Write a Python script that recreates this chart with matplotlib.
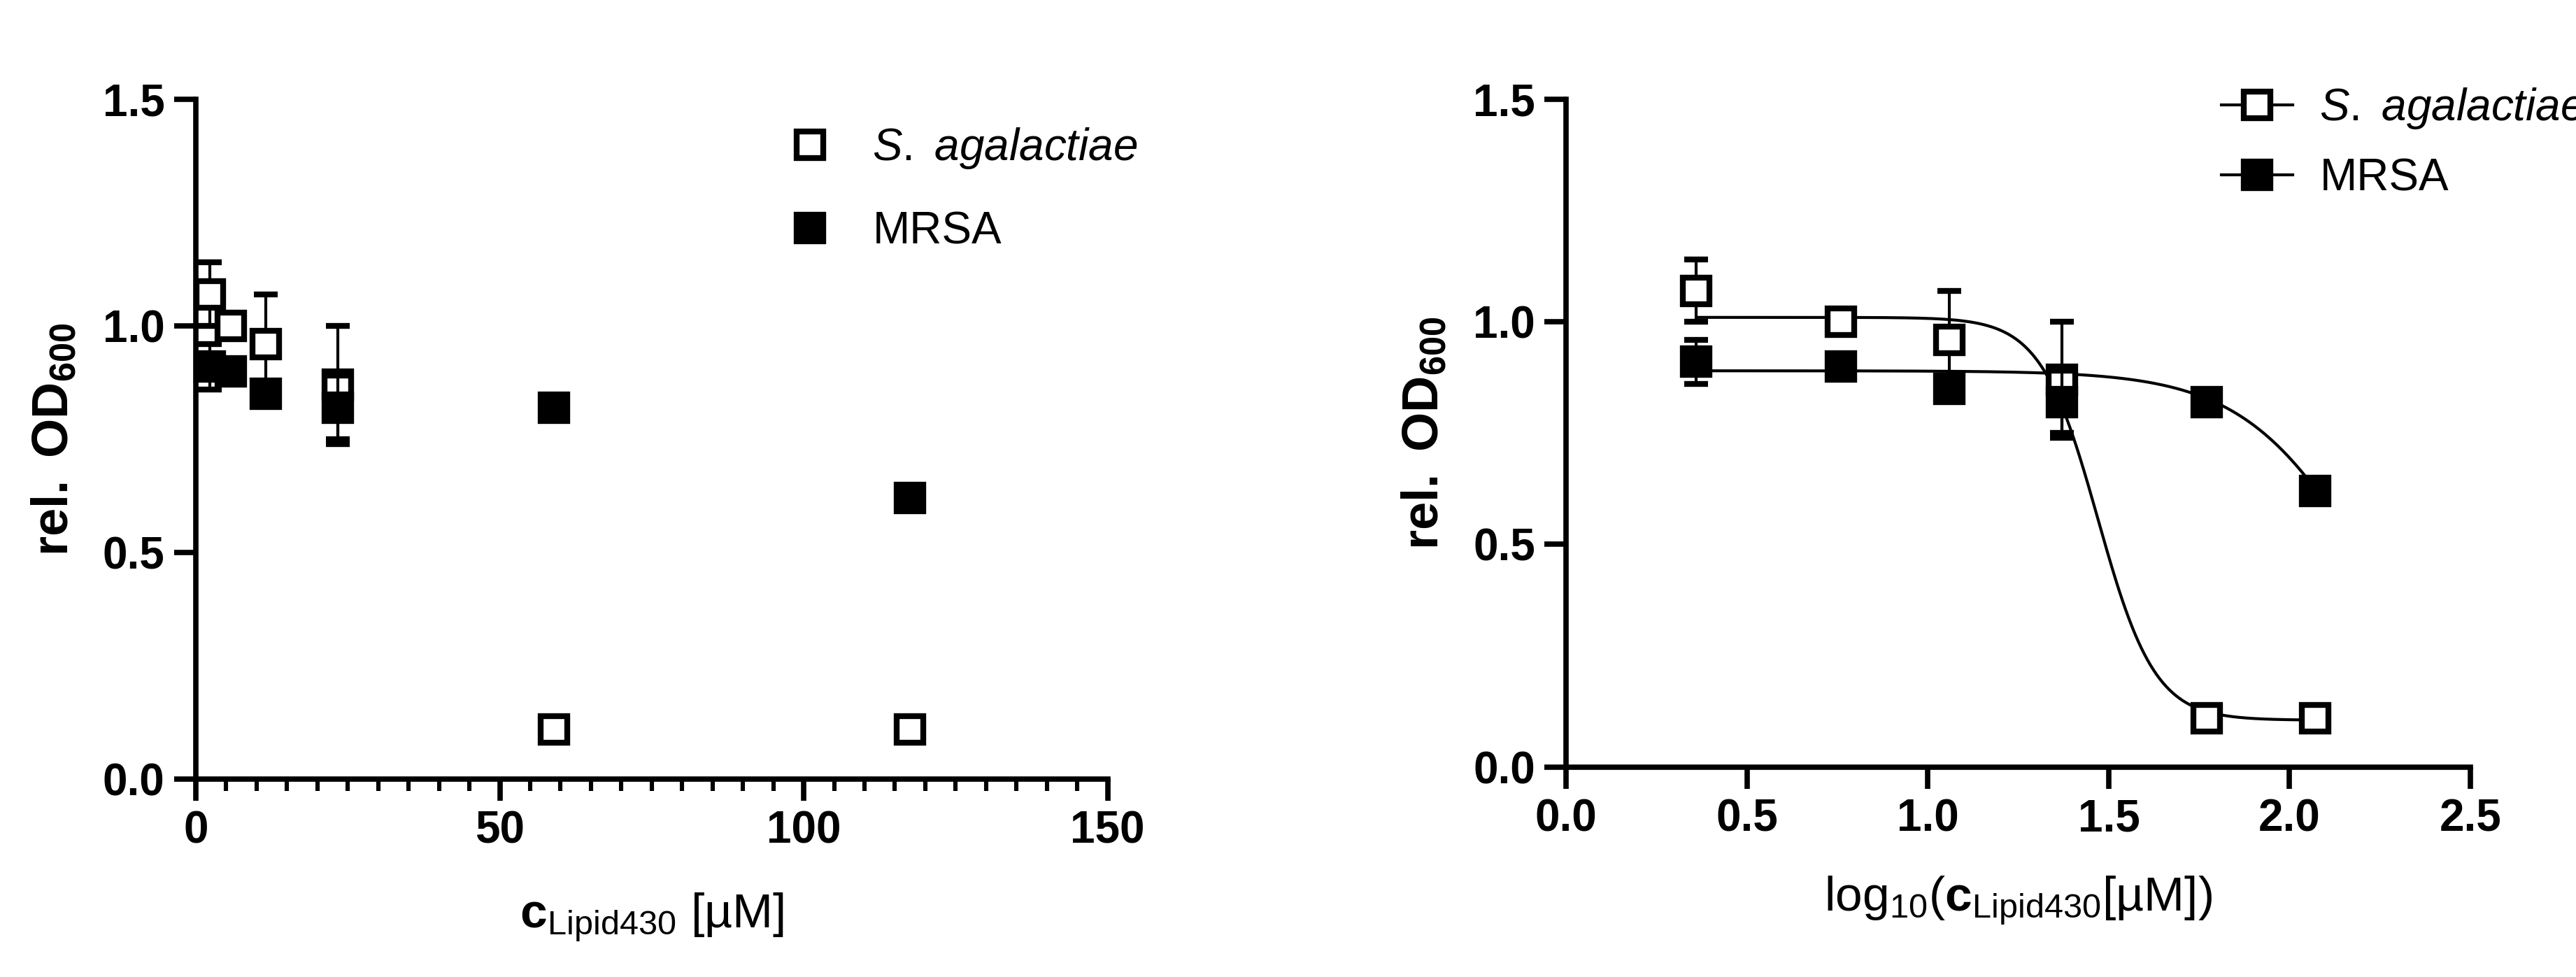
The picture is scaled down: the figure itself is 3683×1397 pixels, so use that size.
import numpy as np
import matplotlib
matplotlib.use("Agg")
import matplotlib.pyplot as plt
from matplotlib.ticker import MultipleLocator

plt.rcParams['font.family'] = ['Liberation Sans', 'DejaVu Sans']
plt.rcParams['mathtext.fontset'] = 'custom'
plt.rcParams['mathtext.rm'] = 'Liberation Sans'
plt.rcParams['mathtext.bf'] = 'Liberation Sans:bold'
plt.rcParams['mathtext.it'] = 'Liberation Sans:italic'

conc = [2.3, 5.8, 11.5, 23.4, 58.9, 117.5]
logc = [0.36, 0.76, 1.06, 1.37, 1.77, 2.07]
sag = [1.07, 1.00, 0.96, 0.87, 0.11, 0.11]
sag_err = [0.07, 0.02, 0.11, 0.13, 0.01, 0.01]
mrsa = [0.91, 0.90, 0.85, 0.82, 0.82, 0.62]
mrsa_err = [0.05, 0.01, 0.01, 0.07, 0.02, 0.01]
# 4PL fit parameters: top, bottom, logIC50, hill
sag_fit = [1.01, 0.105, 1.47, 5.5]
mrsa_fit = [0.89, 0.0, 2.22, 2.5]

def fpl(x, p):
    top, bot, ic, h = p
    return bot + (top - bot) / (1 + 10 ** (h * (x - ic)))

fig = plt.figure(figsize=(36.83, 13.97), dpi=100)
axL = fig.add_axes([0.076, 0.2026, 0.354, 0.6956])
axR = fig.add_axes([0.608, 0.215, 0.351, 0.6834])

lw = 5.5
ms = 28
mew = 6
tfs = 46
eb = dict(ecolor='black', elinewidth=3, capsize=12, capthick=3)

for ax in (axL, axR):
    ax.spines['top'].set_visible(False)
    ax.spines['right'].set_visible(False)
    for s in ('left', 'bottom'):
        ax.spines[s].set_linewidth(lw)
    ax.set_ylim(0, 1.5)
    ax.yaxis.set_major_locator(MultipleLocator(0.5))
    ax.yaxis.set_major_formatter(matplotlib.ticker.FormatStrFormatter('%.1f'))
    ax.tick_params(width=lw, length=22, labelsize=tfs, pad=10)
    ax.tick_params(which='minor', width=lw * 0.8, length=12)
    ax.set_ylabel(r'$\mathbf{rel.\ OD_{600}}$', fontsize=52, labelpad=25)

# Left panel
axL.set_xlim(0, 150)
axL.xaxis.set_major_locator(MultipleLocator(50))
axL.xaxis.set_minor_locator(MultipleLocator(5))
axL.errorbar(conc, sag, yerr=sag_err, fmt='s', mfc='white', mec='black', mew=mew,
             ms=ms, clip_on=False, zorder=3, **eb)
axL.errorbar(conc, mrsa, yerr=mrsa_err, fmt='s', mfc='black', mec='black', mew=mew,
             ms=ms, clip_on=False, zorder=4, **eb)
l1, = axL.plot([], [], 's', mfc='white', mec='black', mew=mew, ms=ms,
               label=r'$\it{S.\ agalactiae}$')
l2, = axL.plot([], [], 's', mfc='black', mec='black', mew=mew, ms=ms, label='MRSA')
axL.set_xlabel(r'$\mathbf{c}_{\mathrm{Lipid430}}$ [µM]', fontsize=50, labelpad=40)
axL.legend(handles=[l1, l2], loc='upper left', bbox_to_anchor=(0.6, 1.02), frameon=False,
           fontsize=46, handletextpad=0.8, labelspacing=0.9, handlelength=1.2)

# Right panel
axR.set_xlim(0, 2.5)
axR.xaxis.set_major_locator(MultipleLocator(0.5))
axR.xaxis.set_major_formatter(matplotlib.ticker.FormatStrFormatter('%.1f'))
xs = np.linspace(logc[0], logc[-1], 400)
axR.plot(xs, fpl(xs, sag_fit), color='black', lw=3)
axR.plot(xs, fpl(xs, mrsa_fit), color='black', lw=3)
axR.errorbar(logc, sag, yerr=sag_err, fmt='s', mfc='white', mec='black', mew=mew,
             ms=ms, zorder=3, **eb)
axR.errorbar(logc, mrsa, yerr=mrsa_err, fmt='s', mfc='black', mec='black', mew=mew,
             ms=ms, zorder=4, **eb)
h1, = axR.plot([], [], '-s', color='black', mfc='white', mew=mew, ms=ms, lw=3,
               label=r'$\it{S.\ agalactiae}$')
h2, = axR.plot([], [], '-s', color='black', mfc='black', mew=mew, ms=ms, lw=3,
               label='MRSA')
axR.legend(handles=[h1, h2], loc='upper left', bbox_to_anchor=(0.68, 1.08), frameon=False,
           fontsize=46, handletextpad=0.6, labelspacing=0.6, handlelength=1.6)
axR.set_xlabel(r'log$_{\mathregular{10}}$($\mathbf{c}_{\mathrm{Lipid430}}$[µM])',
               fontsize=50, labelpad=35)

for ax in (axL, axR):
    for lab in ax.get_xticklabels() + ax.get_yticklabels():
        lab.set_fontweight('bold')

fig.savefig('out.png', dpi=100)
